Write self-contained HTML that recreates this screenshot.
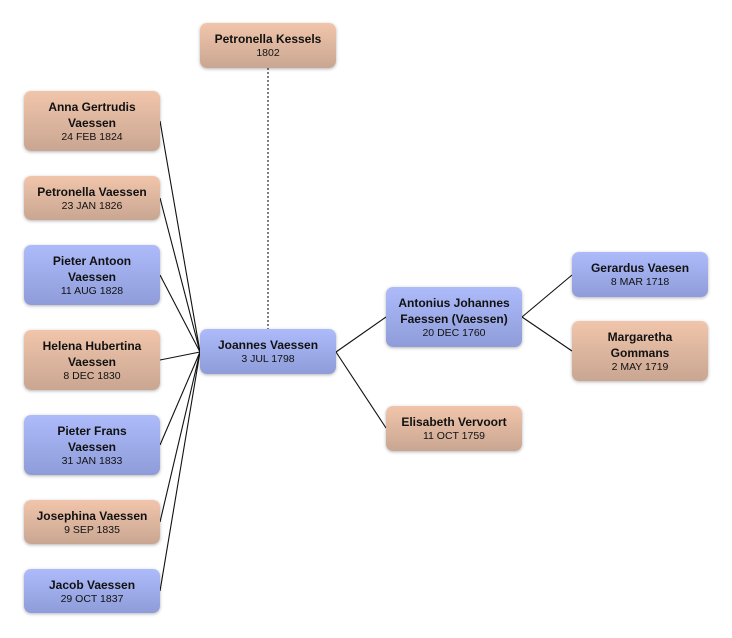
<!DOCTYPE html>
<html><head><style>
body{margin:0;width:732px;height:638px;background:#fff;position:relative;overflow:hidden;font-family:"Liberation Sans",sans-serif;}
.b{position:absolute;width:136px;border-radius:7px;box-shadow:0 1px 3px rgba(0,0,0,0.3);text-align:center;display:flex;flex-direction:column;justify-content:center;color:#111;}
.f{background:linear-gradient(#f1c5ab,#c9a692);}
.m{background:linear-gradient(#adbbfb,#8f9cd9);}
.n{font-weight:bold;font-size:12px;line-height:16px;}
.d{font-size:10.5px;line-height:13px;}
svg{position:absolute;left:0;top:0;}
</style></head><body>
<svg width="732" height="638">
<g stroke="#111" stroke-width="1.1" fill="none">
<line x1="160" y1="121" x2="200" y2="352"/>
<line x1="160" y1="198" x2="200" y2="352"/>
<line x1="160" y1="275" x2="200" y2="352"/>
<line x1="160" y1="360" x2="200" y2="352"/>
<line x1="160" y1="445" x2="200" y2="352"/>
<line x1="160" y1="522" x2="200" y2="352"/>
<line x1="160" y1="591" x2="200" y2="352"/>
<line x1="336" y1="352" x2="386" y2="317"/>
<line x1="336" y1="352" x2="386" y2="428"/>
<line x1="522" y1="317" x2="572" y2="275"/>
<line x1="522" y1="317" x2="572" y2="351"/>
</g>
<line x1="268" y1="68" x2="268" y2="329" stroke="#555" stroke-width="1.5" stroke-dasharray="2,2"/>
</svg>
<div class="b f" style="left:200px;top:23px;height:45px"><div class="n">Petronella Kessels</div><div class="d">1802</div></div>
<div class="b f" style="left:24px;top:91px;height:60px"><div class="n">Anna Gertrudis<br>Vaessen</div><div class="d">24 FEB 1824</div></div>
<div class="b f" style="left:24px;top:176px;height:44px"><div class="n">Petronella Vaessen</div><div class="d">23 JAN 1826</div></div>
<div class="b m" style="left:24px;top:245px;height:60px"><div class="n">Pieter Antoon<br>Vaessen</div><div class="d">11 AUG 1828</div></div>
<div class="b f" style="left:24px;top:330px;height:60px"><div class="n">Helena Hubertina<br>Vaessen</div><div class="d">8 DEC 1830</div></div>
<div class="b m" style="left:24px;top:415px;height:60px"><div class="n">Pieter Frans<br>Vaessen</div><div class="d">31 JAN 1833</div></div>
<div class="b f" style="left:24px;top:500px;height:44px"><div class="n">Josephina Vaessen</div><div class="d">9 SEP 1835</div></div>
<div class="b m" style="left:24px;top:569px;height:44px"><div class="n">Jacob Vaessen</div><div class="d">29 OCT 1837</div></div>
<div class="b m" style="left:200px;top:329px;height:45px"><div class="n">Joannes Vaessen</div><div class="d">3 JUL 1798</div></div>
<div class="b m" style="left:386px;top:287px;height:60px"><div class="n">Antonius Johannes<br>Faessen (Vaessen)</div><div class="d">20 DEC 1760</div></div>
<div class="b f" style="left:386px;top:406px;height:45px"><div class="n">Elisabeth Vervoort</div><div class="d">11 OCT 1759</div></div>
<div class="b m" style="left:572px;top:252px;height:45px"><div class="n">Gerardus Vaesen</div><div class="d">8 MAR 1718</div></div>
<div class="b f" style="left:572px;top:321px;height:60px"><div class="n">Margaretha<br>Gommans</div><div class="d">2 MAY 1719</div></div>
</body></html>
